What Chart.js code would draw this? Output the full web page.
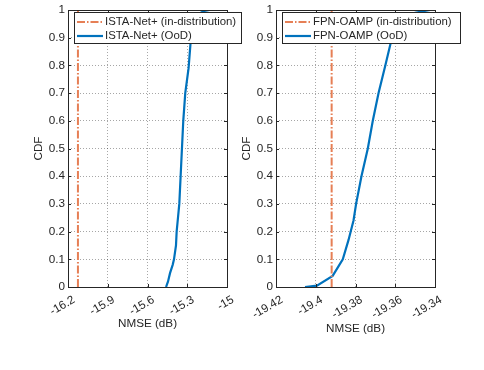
<!DOCTYPE html>
<html><head><meta charset="utf-8">
<script src="https://cdn.jsdelivr.net/npm/chart.js@4/dist/chart.umd.min.js"></script>
<style>
html,body{margin:0;padding:0;background:#fff;width:484px;height:370px;overflow:hidden}
canvas{position:absolute;left:0;top:0}
</style></head><body>
<canvas id="c1" width="484" height="370"></canvas>
<canvas id="c2" width="484" height="370"></canvas>
<script>
// ---- data ----
const cdfTicks = [0, 0.1, 0.2, 0.3, 0.4, 0.5, 0.6, 0.7, 0.8, 0.9, 1];
const istaTicks = [-16.2, -15.9, -15.6, -15.3, -15];
const fpnTicks = [-19.42, -19.4, -19.38, -19.36, -19.34];

const istaLabels = ['ISTA-Net+ (in-distribution)', 'ISTA-Net+ (OoD)'];
const istaInDistNmse = [-16.125, -16.125];
const istaInDistCdf = [0, 1];
const istaOodNmse = [-15.46, -15.445, -15.43, -15.41, -15.40, -15.385, -15.38, -15.37, -15.36, -15.35, -15.34, -15.33, -15.315, -15.29, -15.272, -15.25, -15.229, -15.20, -15.17, -15.13];
const istaOodCdf  = [0, 0.02, 0.05, 0.08, 0.1, 0.15, 0.2, 0.25, 0.3, 0.4, 0.5, 0.6, 0.7, 0.79, 0.9, 0.94, 0.974, 0.99, 0.997, 1.0];

const fpnLabels = ['FPN-OAMP (in-distribution)', 'FPN-OAMP (OoD)'];
const fpnInDistNmse = [-19.392, -19.392];
const fpnInDistCdf = [0, 1];
const fpnOodNmse = [-19.4054, -19.3994, -19.3915, -19.3864, -19.3835, -19.381, -19.3797, -19.377, -19.3738, -19.3713, -19.3684, -19.365, -19.362, -19.3595, -19.3555, -19.350, -19.3424];
const fpnOodCdf  = [0, 0.005, 0.04, 0.1, 0.17, 0.24, 0.3, 0.4, 0.5, 0.6, 0.7, 0.8, 0.89, 0.938, 0.976, 0.99, 1.0];

// ---- helpers ----
const BLUE = '#0072BD', ORANGE = '#E67F55', AX = '#262626';
const FONT = '"Liberation Sans", Arial, Helvetica, sans-serif';
const FS = 11.7;
const zip = (xs, ys) => xs.map((x, i) => ({x, y: ys[i]}));
const fmt = v => String(Number(v.toFixed(4)));

const matlabFrame = {
  id: 'matlabFrame',
  afterDraw(chart, args, opts) {
    const {ctx, chartArea: {left, right, top, bottom}, scales: {x, y}} = chart;
    ctx.save();
    ctx.strokeStyle = AX; ctx.lineWidth = 1; ctx.setLineDash([]);
    ctx.beginPath();
    x.ticks.forEach(t => {
      const px = Math.round(x.getPixelForValue(t.value)) + 0.5;
      ctx.moveTo(px, bottom); ctx.lineTo(px, bottom - 3);
      ctx.moveTo(px, top); ctx.lineTo(px, top + 3);
    });
    y.ticks.forEach(t => {
      const py = Math.round(y.getPixelForValue(t.value)) + 0.5;
      ctx.moveTo(left, py); ctx.lineTo(left + 3, py);
      ctx.moveTo(right, py); ctx.lineTo(right - 3, py);
    });
    ctx.stroke();
    ctx.strokeRect(Math.round(left) + 0.5, Math.round(top) + 0.5, Math.round(right - left), Math.round(bottom - top));
    // legend
    const b = opts.box;
    ctx.fillStyle = '#fff';
    ctx.fillRect(b.x, b.y, b.w, b.h);
    ctx.strokeStyle = AX;
    ctx.strokeRect(b.x + 0.5, b.y + 0.5, b.w, b.h);
    ctx.font = '11.4px ' + FONT;
    ctx.textBaseline = 'middle';
    ctx.textAlign = 'left';
    chart.data.datasets.forEach((ds, i) => {
      const cy = b.y + 10 + i * 14;
      ctx.beginPath();
      ctx.strokeStyle = ds.borderColor;
      ctx.lineWidth = ds.borderWidth;
      ctx.setLineDash(ds.borderDash || []);
      ctx.moveTo(b.x + opts.lineX0, cy); ctx.lineTo(b.x + opts.lineX1, cy);
      ctx.stroke();
      ctx.setLineDash([]);
      ctx.fillStyle = AX;
      ctx.fillText(ds.label, b.x + opts.textX, cy);
    });
    ctx.restore();
  }
};

function makeChart(id, labels, inN, inC, oodN, oodC, xTicks, plotLeft, plotRight, legendBox, titlePad) {
  const W = 484;
  return new Chart(document.getElementById(id), {
    type: 'scatter',
    data: {
      datasets: [
        {label: labels[0], data: zip(inN, inC), showLine: true, borderColor: ORANGE, borderWidth: 2,
         borderDash: [8, 2, 1.5, 2], pointRadius: 0, fill: false},
        {label: labels[1], data: zip(oodN, oodC), showLine: true, borderColor: BLUE, borderWidth: 2.2,
         pointRadius: 0, fill: false, tension: 0}
      ]
    },
    options: {
      responsive: false, animation: false, devicePixelRatio: 1,
      layout: {padding: {left: plotLeft - 68, right: W - plotRight, top: 6, bottom: 0}},
      plugins: {legend: {display: false}, tooltip: {enabled: false},
        matlabFrame: {box: legendBox, lineX0: 3, lineX1: 29, textX: 31}},
      scales: {
        x: {
          type: 'linear', min: xTicks[0], max: xTicks[xTicks.length - 1],
          afterBuildTicks: s => { s.ticks = xTicks.map(v => ({value: v})); },
          afterFit: s => { s.height = 83; },
          grid: {color: 'rgba(0,0,0,0.35)', drawTicks: false, lineWidth: 1},
          border: {display: false, dash: [1, 2]},
          ticks: {color: AX, font: {family: FONT, size: FS}, minRotation: 30, maxRotation: 30,
                  padding: 6, labelOffset: 6, autoSkip: false, callback: v => fmt(v)},
          title: {display: true, text: 'NMSE (dB)', color: AX, font: {family: FONT, size: FS},
                  padding: {top: 0, bottom: titlePad}}
        },
        y: {
          type: 'linear', min: 0, max: 1,
          afterBuildTicks: s => { s.ticks = cdfTicks.map(v => ({value: v})); },
          afterFit: s => { s.width = 68; },
          grid: {color: 'rgba(0,0,0,0.35)', drawTicks: false, lineWidth: 1},
          border: {display: false, dash: [1, 2]},
          ticks: {color: AX, font: {family: FONT, size: FS}, padding: 3, callback: v => fmt(v)},
          title: {display: true, text: 'CDF', color: AX, font: {family: FONT, size: FS},
                  padding: {top: 32, bottom: 0}}
        }
      }
    },
    plugins: [matlabFrame]
  });
}

makeChart('c1', istaLabels, istaInDistNmse, istaInDistCdf, istaOodNmse, istaOodCdf, istaTicks,
  68, 227, {x: 74, y: 12, w: 167, h: 31}, 39);
makeChart('c2', fpnLabels, fpnInDistNmse, fpnInDistCdf, fpnOodNmse, fpnOodCdf, fpnTicks,
  276, 435, {x: 282, y: 12, w: 178, h: 31}, 34.5);
</script>
</body></html>
